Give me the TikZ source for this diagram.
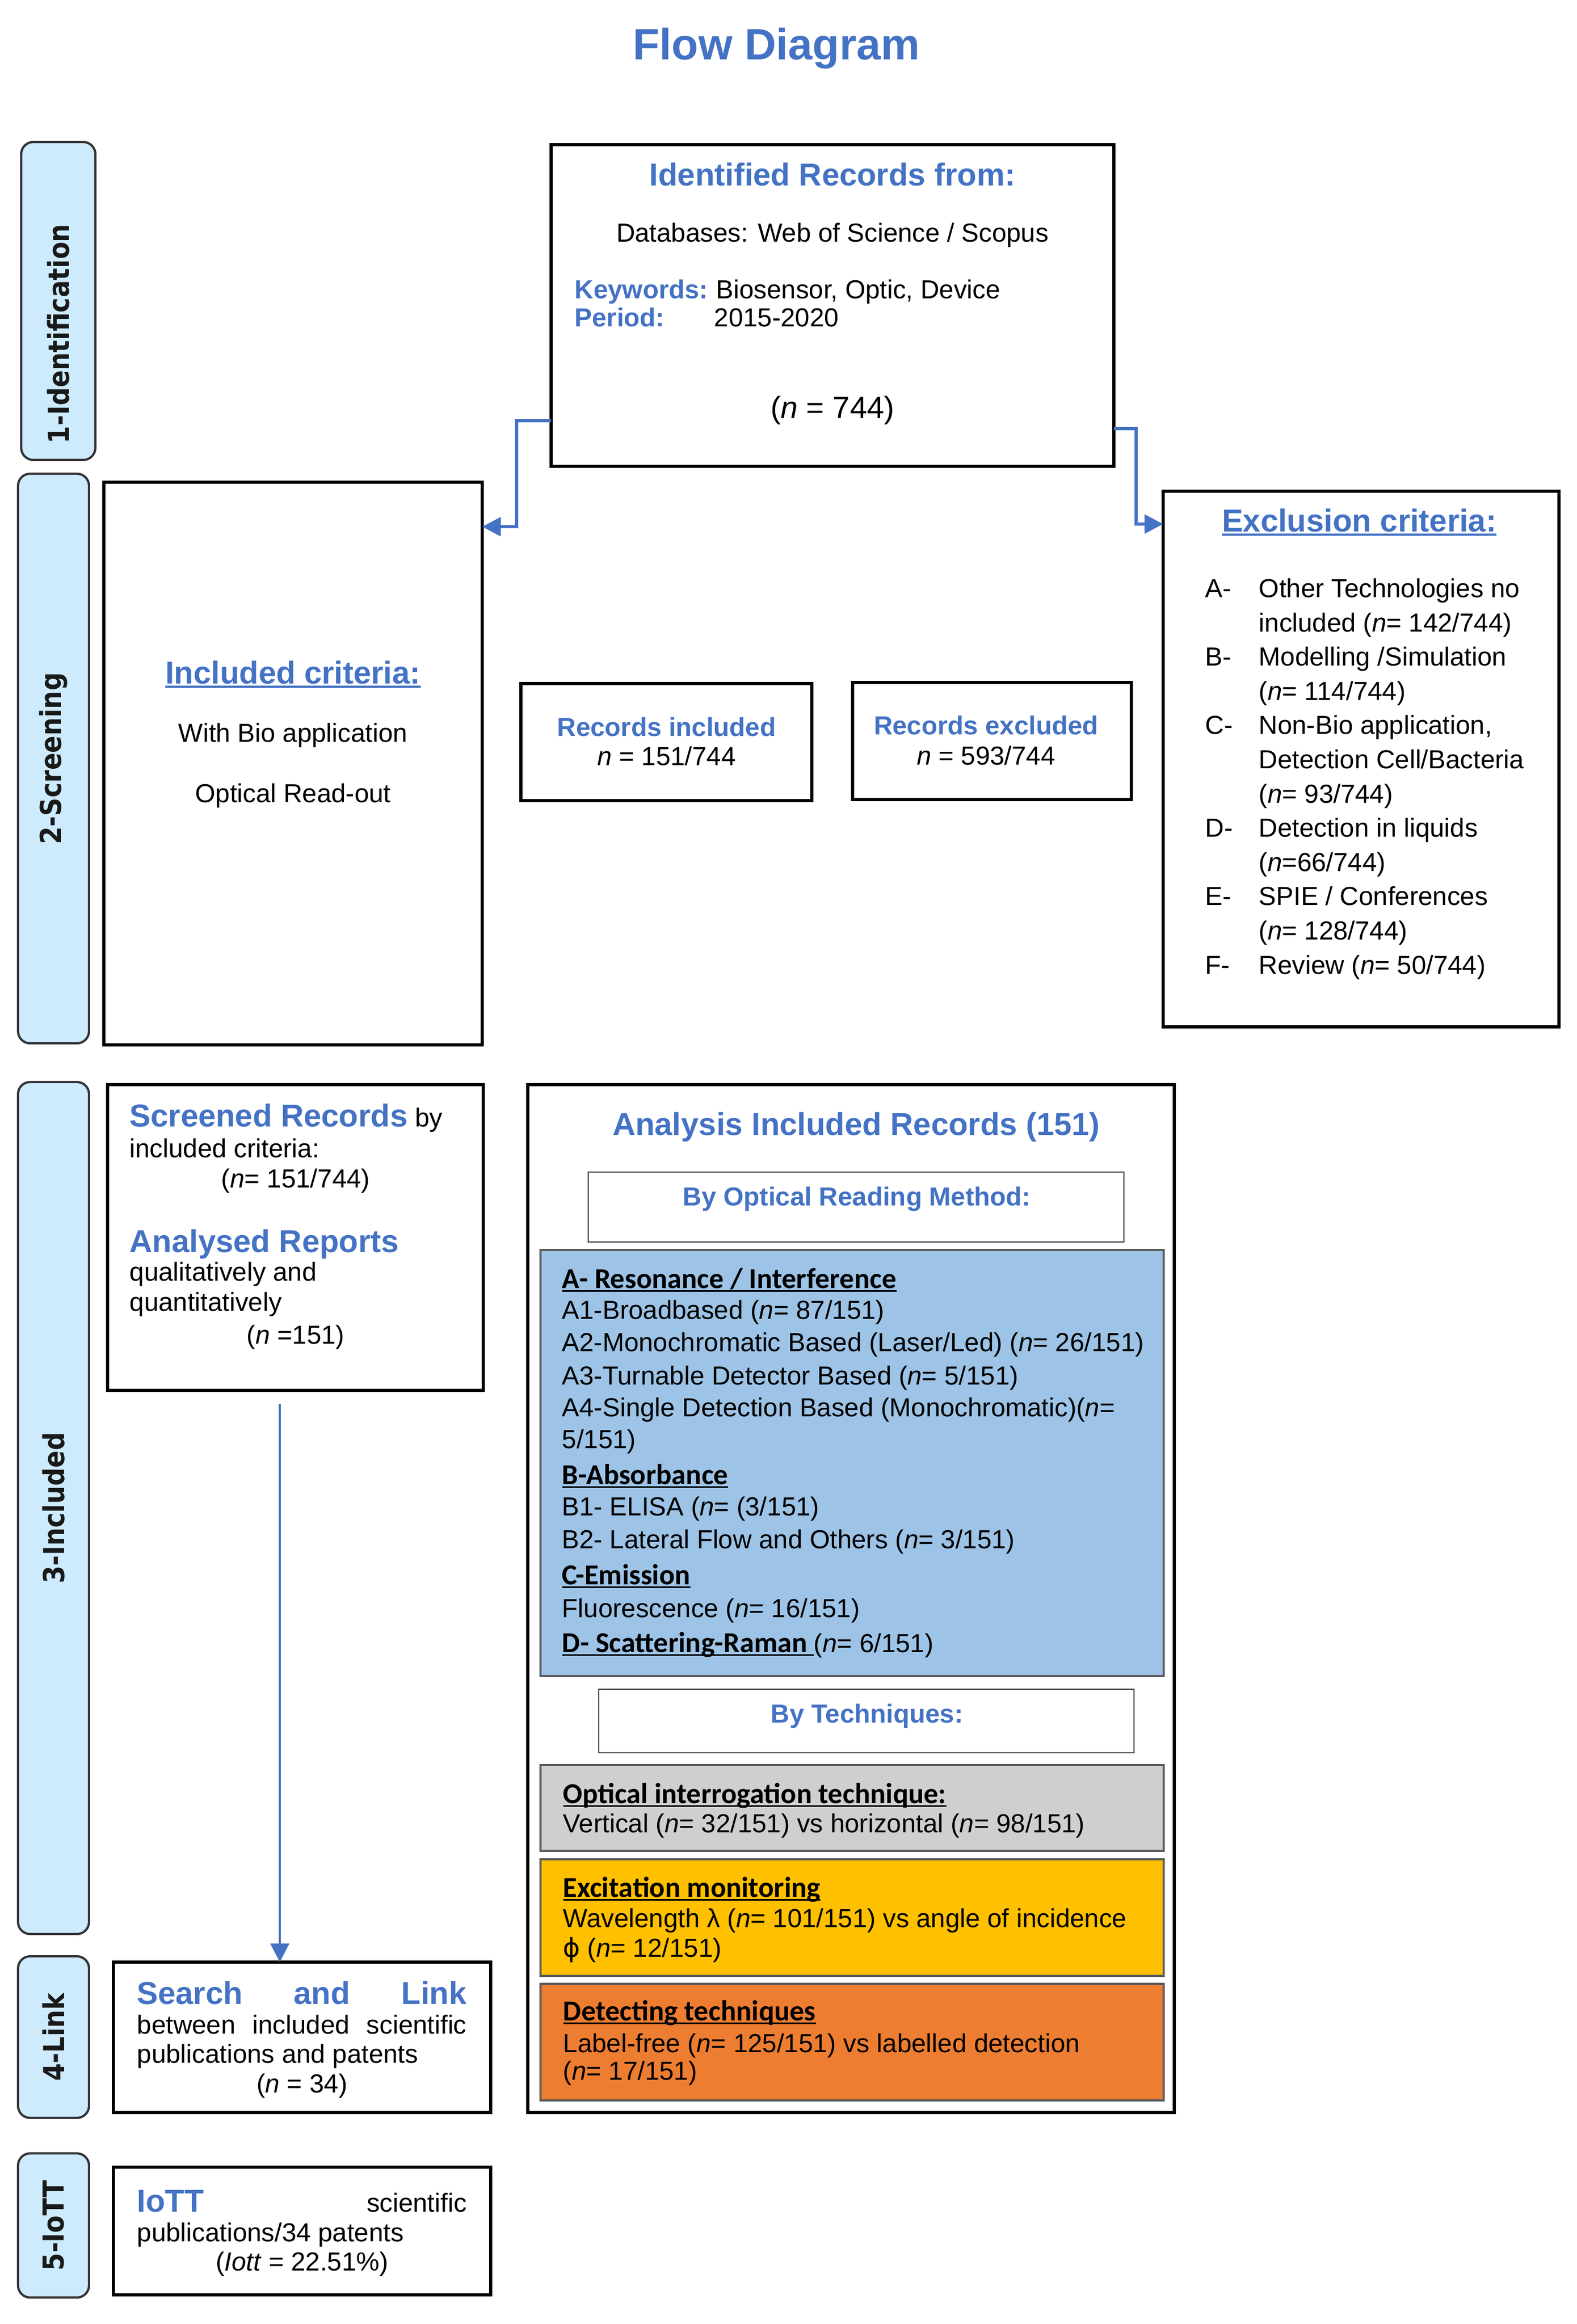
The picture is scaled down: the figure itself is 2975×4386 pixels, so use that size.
\documentclass[tikz,border=0pt]{standalone}
\usepackage{fontspec}
\usepackage{graphicx}
\setmainfont{Liberation Sans}
\newfontfamily\calibrifont{Carlito}
\newfontfamily\dejavufont{DejaVu Sans}
\usetikzlibrary{arrows.meta,fit}
\definecolor{myblue}{RGB}{68,114,196}
\definecolor{stagefill}{RGB}{205,235,252}
\definecolor{boxblue}{RGB}{157,195,230}
\definecolor{boxgray}{RGB}{208,206,206}
\definecolor{boxyellow}{RGB}{255,192,0}
\definecolor{boxorange}{RGB}{237,125,49}
\newcommand\fszn{\fontsize{14}{16.8}\selectfont}
\newcommand\fszb{\fontsize{17}{20.4}\selectfont}
\newcommand\fszh{\fontsize{15.5}{18.6}\selectfont}
\newcommand\myul[1]{\setbox0\hbox{#1}\rlap{\rule[-0.13em]{\wd0}{0.065em}}\box0}
\begin{document}
\begin{tikzpicture}[x=0.1mm,y=-0.1mm,
 box/.style={draw=black,line width=1.5pt,inner sep=0pt,outer sep=0pt},
 thinbox/.style={draw=black!80,line width=0.8pt,inner sep=0pt,outer sep=0pt},
 colbox/.style={draw=black!65,line width=0.9pt,inner sep=0pt,outer sep=0pt},
 stage/.style={draw=black!80,line width=1.2pt,fill=stagefill,rounded corners=6.5pt,inner sep=0pt,outer sep=0pt},
 stagetxt/.style={rotate=90,font=\dejavufont\bfseries\fontsize{15.5}{18}\selectfont,inner sep=0pt,text=black!90},
 tl/.style={inner sep=0pt,anchor=base west,font=\fszn},
 tc/.style={inner sep=0pt,anchor=base,font=\fszn},
 hd/.style={inner sep=0pt,anchor=base west,font=\calibrifont\bfseries\fszh},
 conn/.style={draw=myblue,line width=1.8pt,-{Triangle[length=10pt,width=10pt]}},
]
\fill[white] (0,0) rectangle (2975,4386);
\useasboundingbox (0,0) rectangle (2975,4386);

\node[tc,font=\bfseries\fontsize{23.5}{28}\selectfont,text=myblue] (title) at (1465,112) {Flow Diagram};

% stages
\node[stage,fit={(40,268) (180,868)}] (s1) {};
\node[stage,fit={(34,894) (168,1969)}] (s2) {};
\node[stage,fit={(34,2042) (168,3650)}] (s3) {};
\node[stage,fit={(34,3692) (168,3997)}] (s4) {};
\node[stage,fit={(34,4064) (168,4336)}] (s5) {};
\coordinate (s1c) at (110,630);
\node[stagetxt] (s1t) at (s1c) {\scalebox{0.88}[1]{1-Identification}};
\node[stagetxt] (s2t) at (s2.center) {\scalebox{0.88}[1]{2-Screening}};
\node[stagetxt] (s3t) at (s3.center) {\scalebox{0.88}[1]{3-Included}};
\node[stagetxt] (s4t) at (s4.center) {\scalebox{0.88}[1]{4-Link}};
\node[stagetxt] (s5t) at (s5.center) {\scalebox{0.88}[1]{5-IoTT}};

% boxes
\node[box,fit={(1040,273) (2102,880)}] (idb) {};
\node[box,fit={(196,910) (910,1972)}] (incl) {};
\node[box,fit={(983,1290) (1532,1511)}] (rinc) {};
\node[box,fit={(1609,1288) (2135,1509)}] (rexc) {};
\node[box,fit={(2195,927) (2942,1938)}] (excl) {};
\node[box,fit={(203,2047) (912,2624)}] (scr) {};
\node[box,fit={(996,2047) (2216,3987)}] (ana) {};
\node[thinbox,fit={(1110,2212) (2121,2344)}] (byo) {};
\node[colbox,fill=boxblue,fit={(1020,2359) (2196,3163)}] (bblue) {};
\node[thinbox,fit={(1130,3188) (2140,3308)}] (byt) {};
\node[colbox,fill=boxgray,fit={(1020,3331) (2196,3493)}] (bgray) {};
\node[colbox,fill=boxyellow,fit={(1020,3509) (2196,3729)}] (byel) {};
\node[colbox,fill=boxorange,fit={(1020,3744) (2196,3964)}] (born) {};
\node[box,fit={(214,3703) (926,3987)}] (srch) {};
\node[box,fit={(214,4090) (926,4331)}] (iott) {};

% connectors
\coordinate (y1) at (0,794);
\coordinate (k1) at (975,994);
\draw[conn] (idb.west |- y1) -| (k1) -- (k1 -| incl.east);
\coordinate (y2) at (0,809);
\coordinate (k2) at (2144,989);
\draw[conn] (idb.east |- y2) -| (k2) -- (k2 -| excl.west);
\coordinate (a3) at (528,2650);
\draw[conn,line width=1.3pt] (a3) -- (a3 |- srch.north);

% identified
\node[tc,font=\bfseries\fszb,text=myblue] (idt) at (1571,350) {Identified Records from:};
\node[tc] (idd) at (1571,456) {Databases: Web of Science / Scopus};
\node[tl,font=\bfseries\fszn,text=myblue] (idk) at (1084,563) {Keywords:};
\node[tl] (idk2) at (1351,563) {Biosensor, Optic, Device};
\node[tl,font=\bfseries\fszn,text=myblue] (idp) at (1084,616) {Period:};
\node[tl] (idp2) at (1347,616) {2015-2020};
\node[tc,font=\fontsize{16.5}{20}\selectfont] (idn) at (1571,789) {(\textit{n} = 744)};

% included criteria
\node[tc,font=\bfseries\fszb,text=myblue] (inct) at (553,1290) {\myul{Included criteria:}};
\node[tc] (inc1) at (553,1400) {With Bio application};
\node[tc] (inc2) at (553,1514) {Optical Read-out};

% records
\node[tc,font=\bfseries\fszn,text=myblue] (rit) at (1258,1389) {Records included};
\node[tc] (rin) at (1258,1444) {\textit{n} = 151/744};
\node[tc,font=\bfseries\fszn,text=myblue] (ret) at (1861,1386) {Records excluded};
\node[tc] (ren) at (1861,1443) {\textit{n} = 593/744};

% exclusion
\node[tc,font=\bfseries\fszb,text=myblue] (ext) at (2565,1003) {\myul{Exclusion criteria:}};
\node[tl] (exa) at (2274,1127) {A-};
\node[tl] (exa1) at (2375,1127) {Other Technologies no};
\node[tl] (exa2) at (2375,1192) {included (\textit{n}= 142/744)};
\node[tl] (exb) at (2274,1256) {B-};
\node[tl] (exb1) at (2375,1256) {Modelling /Simulation};
\node[tl] (exb2) at (2375,1321) {(\textit{n}= 114/744)};
\node[tl] (exc) at (2274,1385) {C-};
\node[tl] (exc1) at (2375,1385) {Non-Bio application,};
\node[tl] (exc2) at (2375,1450) {Detection Cell/Bacteria};
\node[tl] (exc3) at (2375,1515) {(\textit{n}= 93/744)};
\node[tl] (exd) at (2274,1579) {D-};
\node[tl] (exd1) at (2375,1579) {Detection in liquids};
\node[tl] (exd2) at (2375,1644) {(\textit{n}=66/744)};
\node[tl] (exe) at (2274,1708) {E-};
\node[tl] (exe1) at (2375,1708) {SPIE / Conferences};
\node[tl] (exe2) at (2375,1773) {(\textit{n}= 128/744)};
\node[tl] (exf) at (2274,1838) {F-};
\node[tl] (exf1) at (2375,1838) {Review (\textit{n}= 50/744)};

% screened
\node[tl] (scr1) at (244,2126) {{\color{myblue}\bfseries\fszb Screened Records} by};
\node[tl] (scr2) at (244,2184) {included criteria:};
\node[tc] (scr3) at (558,2241) {(\textit{n}= 151/744)};
\node[tl,font=\bfseries\fszb,text=myblue] (scr4) at (244,2363) {Analysed Reports};
\node[tl] (scr5) at (244,2417) {qualitatively and};
\node[tl] (scr6) at (244,2474) {quantitatively};
\node[tc] (scr7) at (558,2536) {(\textit{n} =151)};

% analysis
\node[tc,font=\bfseries\fszb,text=myblue] (anat) at (1616,2142) {Analysis Included Records (151)};
\node[tc,font=\bfseries\fszn,text=myblue] (byot) at (1617,2275) {By Optical Reading Method:};
\node[hd] (ba) at (1060,2431) {\myul{A- Resonance / Interference}};
\node[tl] (ba1) at (1060,2489) {A1-Broadbased (\textit{n}= 87/151)};
\node[tl] (ba2) at (1060,2550) {A2-Monochromatic Based (Laser/Led) (\textit{n}= 26/151)};
\node[tl] (ba3) at (1060,2613) {A3-Turnable Detector Based (\textit{n}= 5/151)};
\node[tl] (ba4) at (1060,2673) {A4-Single Detection Based (Monochromatic)(\textit{n}=};
\node[tl] (ba5) at (1060,2733) {5/151)};
\node[hd] (bb) at (1060,2801) {\myul{B-Absorbance}};
\node[tl] (bb1) at (1060,2860) {B1- ELISA (\textit{n}= (3/151)};
\node[tl] (bb2) at (1060,2922) {B2- Lateral Flow and Others (\textit{n}= 3/151)};
\node[hd] (bc) at (1060,2990) {\myul{C-Emission}};
\node[tl] (bc1) at (1060,3052) {Fluorescence (\textit{n}= 16/151)};
\node[tl] (bd) at (1060,3118) {{\calibrifont\bfseries\fszh\myul{D- Scattering-Raman }}(\textit{n}= 6/151)};

\node[tc,font=\bfseries\fszn,text=myblue] (bytt) at (1636,3251) {By Techniques:};
\node[hd] (bgt) at (1062,3403) {\myul{Optical interrogation technique:}};
\node[tl] (bg1) at (1062,3458) {Vertical (\textit{n}= 32/151) vs horizontal (\textit{n}= 98/151)};
\node[hd] (bylt) at (1062,3580) {\myul{Excitation monitoring}};
\node[tl] (byl1) at (1062,3637) {Wavelength λ (\textit{n}= 101/151) vs angle of incidence};
\node[tl] (byl2) at (1062,3693) {{\dejavufont ϕ} (\textit{n}= 12/151)};
\node[hd] (bot) at (1062,3813) {\myul{Detecting techniques}};
\node[tl] (bo1) at (1062,3873) {Label-free (\textit{n}= 125/151) vs labelled detection};
\node[tl] (bo2) at (1062,3925) {(\textit{n}= 17/151)};

% search and link
\node[tl] (sr1) at (258,3782) {\hbox to 62.2mm{\color{myblue}\bfseries\fszb Search\hfill and\hfill Link}};
\node[tl] (sr2) at (258,3838) {\hbox to 62.2mm{between\hfill included\hfill scientific}};
\node[tl] (sr3) at (258,3893) {publications and patents};
\node[tc] (sr4) at (570,3949) {(\textit{n} = 34)};

% iott
\node[tl] (io1) at (258,4174) {\hbox to 62.2mm{{\color{myblue}\bfseries\fszb IoTT}\hfill scientific}};
\node[tl] (io2) at (258,4230) {publications/34 patents};
\node[tc] (io3) at (570,4285) {(\textit{Iott} = 22.51\%)};
\end{tikzpicture}
\end{document}
